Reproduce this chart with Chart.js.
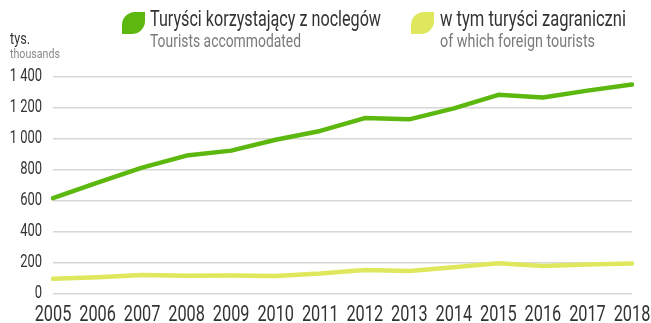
<!DOCTYPE html>
<html>
<head>
<meta charset="utf-8">
<script src="https://cdn.jsdelivr.net/npm/chart.js@4/dist/chart.umd.min.js"></script>
<style>
  html, body { margin: 0; padding: 0; background: #fff; }
  #wrap { position: relative; width: 651px; height: 323px; font-family: Roboto, sans-serif; }
  #wrap canvas { position: absolute; left: 0; top: 0; }
  .fit { position: absolute; white-space: nowrap; transform-origin: 0 0; }
  .leaf { position: absolute; width: 23px; height: 22px; border-radius: 13px 0 13px 0; }
  .pl { color: #333; font-size: 22px; line-height: 24px; }
  .en { color: #7a7a7a; font-size: 18px; line-height: 20px; }
</style>
</head>
<body>
<div id="wrap">
  <canvas id="chart" width="651" height="323"></canvas>
  <div class="fit" data-w="20" style="left:10px;top:30px;color:#333;font-size:16px;line-height:18px">tys.</div>
  <div class="fit" data-w="50" style="left:10px;top:47px;color:#8a8a8a;font-size:13px;line-height:13px">thousands</div>

  <div class="leaf" style="left:122px;top:12px;background:#5cb80e"></div>
  <div class="fit pl" data-w="231" style="left:150px;top:7px">Turyści korzystający z noclegów</div>
  <div class="fit en" data-w="151" style="left:150px;top:31px">Tourists accommodated</div>

  <div class="leaf" style="left:411px;top:12px;background:#dfe85c"></div>
  <div class="fit pl" data-w="186" style="left:440px;top:7px">w tym turyści zagraniczni</div>
  <div class="fit en" data-w="155" style="left:440px;top:31px">of which foreign tourists</div>
</div>
<script>
// years on the x axis
const years = ['2005', '2006', '2007', '2008', '2009', '2010', '2011', '2012', '2013', '2014', '2015', '2016', '2017', '2018'];
// tourists accommodated, thousands
const touristsTotal = [618, 718, 815, 893, 925, 995, 1052, 1135, 1127, 1198, 1285, 1268, 1312, 1352];
// of which foreign tourists, thousands
const touristsForeign = [98, 108, 122, 118, 119, 116, 132, 155, 148, 172, 198, 180, 191, 196];

const fmt = v => String(v).replace(/\B(?=(\d{3})+(?!\d))/g, ' ');

// squeeze the legend texts to a narrow width
document.querySelectorAll('.fit').forEach(el => {
  const w = el.getBoundingClientRect().width;
  el.style.transform = 'scaleX(' + (el.dataset.w / w) + ')';
});

// condensed tick labels, drawn at the scales' own tick positions
const tickLabels = {
  id: 'tickLabels',
  afterDraw(chart) {
    const { ctx, scales: { x, y } } = chart;
    ctx.save();
    ctx.fillStyle = '#333';
    ctx.font = '22px Roboto';
    ctx.textAlign = 'center';
    ctx.textBaseline = 'alphabetic';
    x.ticks.forEach((t, i) => {
      ctx.save();
      ctx.translate(x.getPixelForTick(i), 321);
      ctx.scale(0.74, 1);
      ctx.fillText(years[i], 0, 0);
      ctx.restore();
    });
    ctx.font = '18px Roboto';
    ctx.textAlign = 'right';
    ctx.textBaseline = 'middle';
    y.ticks.forEach((t, i) => {
      ctx.save();
      ctx.translate(42, y.getPixelForTick(i) - 1);
      ctx.scale(0.72, 1);
      ctx.fillText(fmt(t.value), 0, 0);
      ctx.restore();
    });
    ctx.restore();
  }
};

new Chart(document.getElementById('chart'), {
  type: 'line',
  data: {
    labels: years,
    datasets: [
      { data: touristsTotal, borderColor: '#5cb80e', borderWidth: 4.5, pointRadius: 0, tension: 0, borderCapStyle: 'round', borderJoinStyle: 'round' },
      { data: touristsForeign, borderColor: '#dfe85c', borderWidth: 4.5, pointRadius: 0, tension: 0, borderCapStyle: 'round', borderJoinStyle: 'round' }
    ]
  },
  options: {
    responsive: false,
    animation: false,
    layout: { padding: { left: 0, right: 19, top: 77, bottom: 0 } },
    plugins: { legend: { display: false }, tooltip: { enabled: false } },
    scales: {
      x: {
        offset: false,
        grid: { display: false },
        border: { display: false },
        ticks: { display: false, autoSkip: false },
        afterFit: s => { s.height = 29; }
      },
      y: {
        min: 0, max: 1400,
        grid: { color: '#d6d6d6', lineWidth: 1.5, drawTicks: false },
        border: { display: false },
        ticks: { stepSize: 200, display: false },
        afterFit: s => { s.width = 53; }
      }
    }
  },
  plugins: [tickLabels]
});
</script>
</body>
</html>
